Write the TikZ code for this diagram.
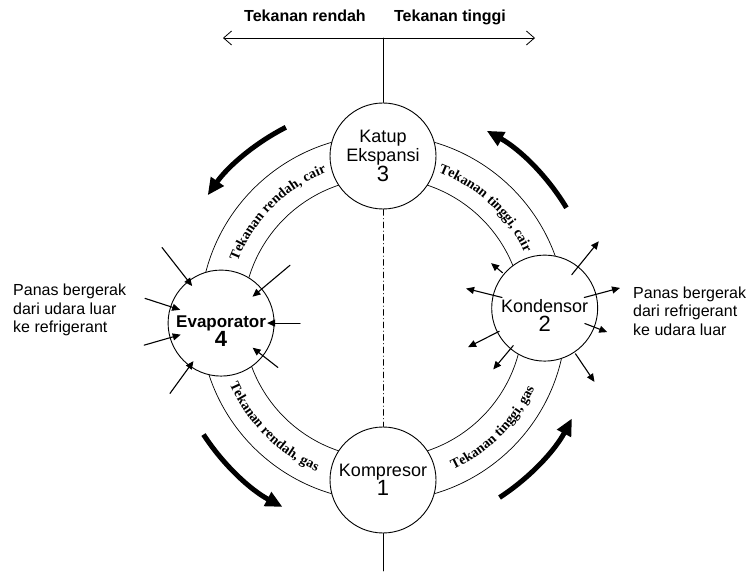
\documentclass[tikz,border=0pt]{standalone}
\usepackage{fontspec}
\setmainfont{Liberation Sans}
\newfontfamily\bandserif{Liberation Serif}
\usetikzlibrary{arrows.meta,decorations.text}

\newcommand\unitnum{\fontsize{22}{24}\selectfont}
\newcommand\bandtext{\bandserif\bfseries\fontsize{14}{14}\selectfont}

\begin{document}
\begin{tikzpicture}[x=1pt,y=1pt,line cap=round,line join=round,
  unit/.style={circle,draw,line width=.9pt,fill=white,minimum size=106pt,
    inner sep=0pt,align=center,font=\fontsize{18}{19}\selectfont},
  pipe/.style={line width=.7pt},
  heat/.style={line width=1.1pt,-{Triangle[length=8pt,width=7pt]}},
  flow/.style={line width=5pt,line cap=butt,-{Triangle[length=17pt,width=15pt]}},
  band/.style={decorate,decoration={text along path,text align=center,text={#1}}},
  title/.style={font=\bfseries\fontsize{16}{18}\selectfont,anchor=base},
  side/.style={font=\fontsize{16}{18.5}\selectfont,align=left,anchor=west,inner sep=0pt}]

\useasboundingbox (0,0) rectangle (753,571);

% Pressure axis across the top, split at the vertical centre line.
\coordinate (axl) at (223,533);
\coordinate (axr) at (535,533);
\coordinate (axtop) at (383,533);
\coordinate (axbot) at (383,0);
\draw[line width=.8pt,{Straight Barb[length=8pt,width=14pt]}-{Straight Barb[length=8pt,width=14pt]}]
  (axl)--(axr);
\node[title] (low) at (305,549) {Tekanan rendah};
\node[title] (high) at (450,549) {Tekanan tinggi};

% Refrigerant pipe ring and the four units on it.
\coordinate (ring) at (383,253);
\draw[pipe] (ring) circle (183);
\draw[pipe] (ring) circle (140);
\node[unit] (katup) at ([shift={(90:162)}]ring) {Katup\\Ekspansi\\{\unitnum 3}};
\node[unit] (kond) at ([shift={(3.5:162)}]ring) {\mbox{}\\[8pt]Kondensor\\{\unitnum 2}};
\node[unit] (komp) at ([shift={(270:162)}]ring) {Kompresor\\{\unitnum 1}};
\node[unit,font=\bfseries\fontsize{17}{19}\selectfont] (evap) at ([shift={(181.8:162)}]ring)
  {\mbox{}\\[8pt]Evaporator\\{\unitnum 4}};

\draw[line width=.8pt] (axtop)--(katup);
\draw[line width=.6pt,dash pattern=on 6pt off 3pt on .5pt off 3pt] (katup)--(komp);
\draw[line width=.8pt] (komp)--(axbot);

% State of the refrigerant in each quarter of the pipe.
\path[band={|\bandtext|Tekanan rendah, cair}]
  ([shift={(160:156)}]ring) arc (160:110:156);
\path[band={|\bandtext|Tekanan tinggi, cair}]
  ([shift={(72:156)}]ring) arc (72:22:156);
\path[band={|\bandtext|Tekanan rendah, gas}]
  ([shift={(199:167)}]ring) arc (199:251:167);
\path[band={|\bandtext|Tekanan tinggi, gas}]
  ([shift={(291:167)}]ring) arc (291:339:167);

% Flow direction outside the ring.
\draw[flow] ([shift={(117:214)}]ring) arc (117:145:214);
\draw[flow] ([shift={(31:214)}]ring) arc (31:61:214);
\draw[flow] ([shift={(-57:214)}]ring) arc (-57:-28:214);
\draw[flow] ([shift={(213:214)}]ring) arc (213:242:214);

% Heat into the evaporator, heat out of the condenser.
\foreach \a/\rf/\rt in {128/96/47,162/80/43,196/80/42,234/87/47,40/90/41,0/79/46,-38/72/40}
  \draw[heat] ([shift={(\a:\rf)}]evap.center)--([shift={(\a:\rt)}]evap.center);
\foreach \a/\rf/\rt in {51/43/86,15/41/78,-21/43/67,-56/55/89,230/49/80,207/51/86,166/44/81,140/55/70}
  \draw[heat] ([shift={(\a:\rf)}]kond.center)--([shift={(\a:\rt)}]kond.center);

\node[side] (heatin) at (13,261) {Panas bergerak\\dari udara luar\\ke refrigerant};
\node[side] (heatout) at (633,260) {Panas bergerak\\dari refrigerant\\ke udara luar};
\end{tikzpicture}
\end{document}
